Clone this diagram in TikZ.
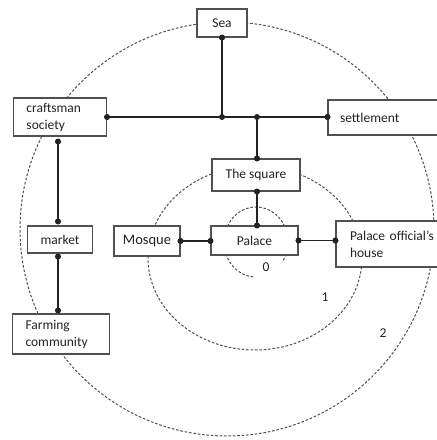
\documentclass[tikz,border=0pt]{standalone}
\usepackage{fontspec}
\setmainfont{Carlito}
\usepackage{tikz}
\usetikzlibrary{arrows.meta}
\definecolor{boxgray}{RGB}{80, 80, 80}
\definecolor{inkgray}{RGB}{35, 35, 35}

\begin{document}
\begin{tikzpicture}[
  x=1pt, y=-1pt,
  place/.style={
    draw=boxgray, fill=white, line width=1.1pt,
    font=\fontsize{13.5}{17}\selectfont, text=inkgray,
    inner sep=0pt
  },
  placel/.style={place, align=left, inner xsep=13pt},
  link/.style={line width=1.3pt, color=inkgray},
  tipstart/.style={link, {Circle[length=6pt]}-, shorten <=-3pt},
  tipend/.style={link, -{Circle[length=6pt]}, shorten >=-3pt},
  dots/.style={link, {Circle[length=6pt]}-{Circle[length=6pt]},
               shorten <=-3pt, shorten >=-3pt},
  jdot/.style={circle, fill=inkgray, inner sep=0pt, minimum size=6pt},
  ring/.style={dash pattern=on 2.6pt off 1.8pt, line width=1pt, color=boxgray},
  zone/.style={font=\fontsize{13.5}{16}\selectfont, text=inkgray}
]
  \clip (0,0) rectangle (437,440);

  % --- Rings ---
  \draw[ring] (227,229) circle [radius=207];
  \draw[ring] (255,258) ellipse [x radius=107, y radius=92];
  \draw[ring] ([shift={(95:32 and 35)}]256,242)
    arc [start angle=95, end angle=395, x radius=32, y radius=35];

  \node[zone] (z0) at (266,267) {0};
  \node[zone] (z1) at (325,297) {1};
  \node[zone] (z2) at (383,333) {2};

  % --- Nodes ---
  \node[place, minimum width=50pt, minimum height=28pt] (sea) at (222,23) {Sea};
  \node[placel, text width=67pt, minimum height=38pt] (craft) at (60,117)
    {craftsman\\society};
  \node[placel, inner xsep=12pt, text width=94pt, minimum height=35pt] (settle)
    at (387,117.5) {settlement};
  \node[place, minimum width=88pt, minimum height=32pt] (square) at (256,175)
    {The square};
  \node[place, minimum width=87pt, minimum height=29pt] (palace) at (254.5,240.5)
    {Palace};
  \node[place, minimum width=66pt, minimum height=30pt,
        font=\fontsize{14.5}{17}\selectfont] (mosque) at (147,241) {Mosque};
  \node[place, minimum width=65pt, minimum height=27pt] (market) at (60,239.5)
    {market};
  \node[placel, text width=71pt, minimum height=40pt] (farm) at (61,334)
    {Farming\\community};
  \node[placel, inner xsep=14pt, text width=90pt, minimum height=46pt] (house)
    at (395,244) {Palace official's\\house};

  \node[jdot] (j1) at (sea.south |- craft.east) {};
  \node[jdot] (j2) at (257,117) {};

  % --- Links ---
  \draw[dots] (craft.east) -- (craft.east -| settle.west);
  \draw[tipstart] (sea.south) -- (j1.center);
  \draw[tipend] (j2.center) -- (j2 |- square.north);
  \draw[dots] (j2 |- square.south) -- (j2 |- palace.north);
  \draw[dots] (mosque.east) -- (mosque.east -| palace.west);
  \draw[dots] (palace.east) -- (palace.east -| house.west);

  % left column
  \draw[dots, shorten <=2pt, shorten >=1pt]
    ([xshift=-2pt]craft.south) -- ([xshift=-2pt]craft.south |- market.north);
  \draw[dots, shorten <=0pt, shorten >=0pt]
    ([xshift=-2pt]market.south) -- ([xshift=-2pt]market.south |- farm.north);

\end{tikzpicture}
\end{document}
